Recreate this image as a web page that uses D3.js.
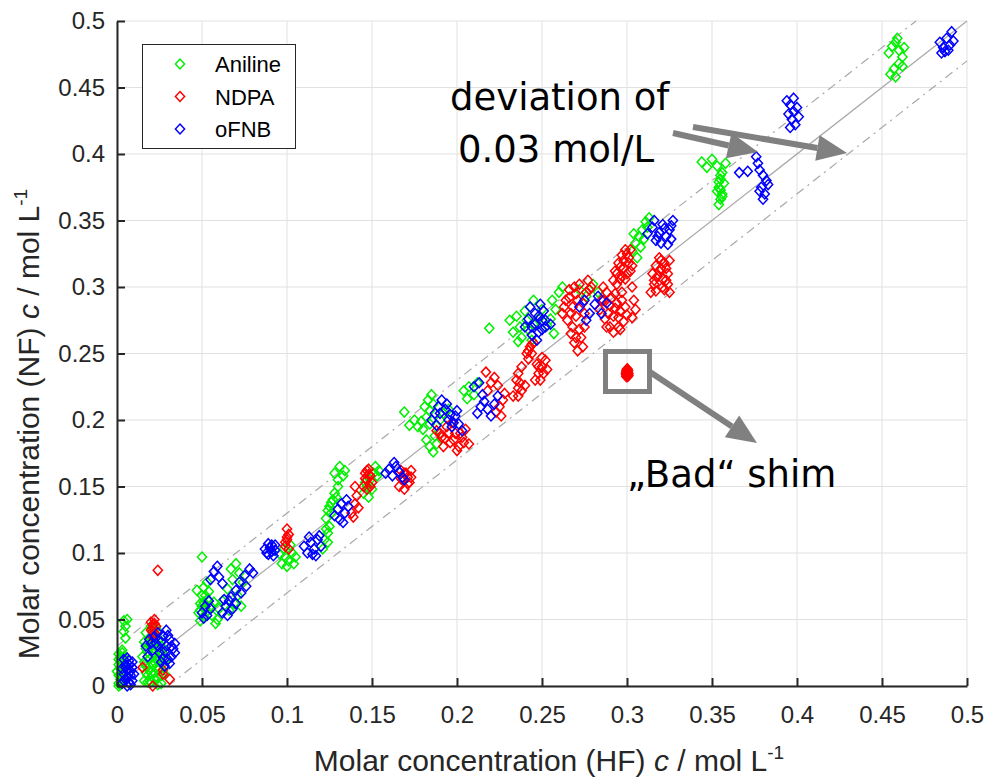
<!DOCTYPE html>
<html><head><meta charset="utf-8">
<script src="https://cdn.jsdelivr.net/npm/d3@7"></script>
<style>body{margin:0;background:#fff}svg{display:block}</style>
</head><body>
<svg id="chart" width="987" height="778"></svg>
<script>
// ---------- DATA ----------
const seriesNames = ["Aniline", "NDPA", "oFNB"];
const seriesColors = ["#00f000", "#ff0000", "#0000ff"];
const xTicks = [0, 0.05, 0.1, 0.15, 0.2, 0.25, 0.3, 0.35, 0.4, 0.45, 0.5];
const yTicks = [0, 0.05, 0.1, 0.15, 0.2, 0.25, 0.3, 0.35, 0.4, 0.45, 0.5];
const tickLabels = ["0", "0.05", "0.1", "0.15", "0.2", "0.25", "0.3", "0.35", "0.4", "0.45", "0.5"];
const deviation = 0.03;

const aniline = [
[0.001,0.002],[0.002,0.005],[0.001,0.008],[0.003,0.010],[0.002,0.013],[0.001,0.016],[0.003,0.018],[0.002,0.021],[0.001,0.024],[0.003,0.003],[0.004,0.007],[0.000,0.011],[0.003,0.014],[0.002,0.019],[0.004,0.022],[0.001,0.000],[0.003,0.025],
[0.002,0.001],[0.002,0.009],[0.004,0.015],[0.001,0.020],[0.003,0.027],
[0.005,0.036],[0.004,0.041],[0.005,0.045],[0.004,0.049],[0.006,0.050],
[0.016,0.004],[0.018,0.008],[0.020,0.003],[0.022,0.010],[0.017,0.015],[0.019,0.020],[0.021,0.016],[0.024,0.006],[0.025,0.013],[0.023,0.020],[0.026,0.002],[0.027,0.017],[0.018,0.026],[0.020,0.030],[0.022,0.025],[0.024,0.028],[0.016,0.033],[0.019,0.036],[0.021,0.040],[0.025,0.035],[0.027,0.024],[0.028,0.009],[0.015,0.022],[0.023,0.043],[0.019,0.012],[0.026,0.030],[0.029,0.020],[0.017,0.040],[0.022,0.005],[0.020,0.045],
[0.017,0.010],[0.021,0.022],[0.023,0.014],[0.025,0.020],[0.027,0.028],[0.018,0.032],[0.020,0.037],[0.022,0.033],[0.026,0.008],[0.024,0.001],[0.019,0.004],[0.028,0.014],
[0.016,0.018],[0.018,0.003],[0.020,0.010],[0.022,0.018],[0.024,0.012],[0.026,0.024],[0.017,0.028],[0.023,0.036],
[0.050,0.097],[0.048,0.055],[0.049,0.062],[0.050,0.068],[0.051,0.074],[0.052,0.058],[0.053,0.065],[0.054,0.071],[0.049,0.049],[0.051,0.052],[0.055,0.060],[0.056,0.053],[0.058,0.047],[0.059,0.050],[0.047,0.072],[0.053,0.078],[0.057,0.063],[0.060,0.058],[0.062,0.064],
[0.050,0.060],[0.052,0.068],[0.051,0.063],[0.049,0.057],
[0.067,0.088],[0.070,0.092],[0.072,0.085],[0.068,0.080],[0.065,0.073],[0.071,0.068],[0.074,0.078],[0.069,0.062],[0.066,0.057],[0.073,0.060],
[0.097,0.092],[0.099,0.097],[0.101,0.094],[0.103,0.100],[0.098,0.103],[0.102,0.106],[0.105,0.097],[0.100,0.090],[0.104,0.092],[0.096,0.099],[0.124,0.108],[0.121,0.103],
[0.128,0.160],[0.131,0.165],[0.133,0.158],[0.130,0.155],[0.134,0.162],
[0.122,0.110],[0.124,0.115],[0.125,0.120],[0.123,0.126],[0.126,0.130],[0.125,0.135],[0.127,0.140],[0.128,0.145],[0.130,0.150],[0.126,0.138],[0.124,0.132],[0.129,0.142],[0.123,0.118],
[0.145,0.145],[0.147,0.150],[0.149,0.155],[0.151,0.160],[0.152,0.165],[0.150,0.148],[0.148,0.142],[0.153,0.158],[0.146,0.153],[0.154,0.162],
[0.169,0.206],[0.172,0.196],[0.175,0.200],[0.177,0.195],[0.179,0.199],[0.182,0.202],[0.184,0.197],[0.180,0.193],[0.181,0.210],[0.183,0.215],[0.185,0.219],[0.186,0.212],[0.184,0.207],[0.182,0.185],[0.184,0.180],[0.186,0.176],[0.188,0.182],[0.187,0.188],[0.190,0.200],[0.192,0.205],[0.195,0.208],[0.204,0.222],[0.207,0.225],[0.210,0.219],[0.206,0.216],[0.212,0.228],
[0.219,0.269],[0.231,0.275],[0.235,0.278],[0.233,0.266],[0.237,0.270],[0.240,0.282],[0.238,0.262],[0.242,0.268],[0.236,0.259],[0.241,0.275],[0.245,0.272],[0.248,0.276],[0.250,0.283],[0.253,0.271],[0.256,0.290],[0.258,0.283],[0.260,0.296],[0.257,0.265],[0.255,0.276],[0.262,0.300],[0.245,0.290],[0.244,0.260],
[0.272,0.298],[0.276,0.293],[0.280,0.302],[0.283,0.296],
[0.303,0.327],[0.305,0.333],[0.307,0.338],[0.309,0.343],[0.311,0.349],[0.308,0.330],[0.306,0.322],[0.310,0.336],[0.312,0.345],[0.304,0.340],[0.313,0.352],
[0.344,0.394],[0.347,0.390],[0.350,0.396],[0.353,0.391],[0.356,0.386],[0.358,0.393],[0.355,0.381],[0.354,0.375],[0.356,0.370],[0.355,0.366],[0.357,0.378],[0.353,0.372],[0.354,0.362],
[0.355,0.373],[0.356,0.368],[0.354,0.379],[0.355,0.384],
[0.454,0.476],[0.456,0.481],[0.458,0.484],[0.460,0.478],[0.462,0.473],[0.459,0.487],[0.463,0.480],[0.455,0.460],[0.457,0.464],[0.460,0.468],[0.458,0.458],[0.462,0.466]
];

const ndpa = [
[0.015,0.014],[0.021,0.000],[0.027,0.012],[0.031,0.005],[0.027,0.009],[0.024,0.087],
[0.020,0.042],[0.021,0.046],[0.022,0.050],[0.021,0.044],[0.020,0.048],[0.022,0.040],[0.023,0.045],[0.021,0.037],[0.021,0.041],[0.022,0.047],
[0.099,0.105],[0.100,0.110],[0.101,0.114],[0.100,0.118],[0.099,0.108],[0.101,0.103],[0.100,0.112],
[0.138,0.130],[0.140,0.137],[0.141,0.143],[0.139,0.127],[0.142,0.134],[0.140,0.150],
[0.145,0.150],[0.147,0.155],[0.149,0.158],[0.146,0.160],[0.148,0.163],[0.150,0.153],[0.147,0.148],
[0.146,0.156],[0.148,0.159],[0.149,0.150],[0.147,0.162],
[0.166,0.150],[0.168,0.155],[0.170,0.160],[0.167,0.162],[0.172,0.153],[0.169,0.148],[0.171,0.157],[0.173,0.162],
[0.167,0.156],[0.169,0.160],[0.171,0.152],[0.173,0.157],
[0.188,0.192],[0.191,0.187],[0.194,0.195],[0.196,0.183],[0.199,0.190],[0.201,0.180],[0.203,0.187],[0.205,0.193],[0.207,0.182],[0.197,0.198],[0.192,0.180],[0.200,0.177],
[0.190,0.190],[0.193,0.186],[0.195,0.190],[0.198,0.185],[0.202,0.190],[0.204,0.183],
[0.218,0.222],[0.220,0.228],[0.222,0.232],[0.217,0.236],[0.224,0.226],[0.225,0.210],[0.227,0.215],[0.228,0.220],[0.223,0.206],[0.226,0.203],
[0.236,0.218],[0.238,0.222],[0.240,0.226],[0.237,0.228],
[0.241,0.250],[0.243,0.255],[0.245,0.258],[0.242,0.246],[0.246,0.230],[0.248,0.235],[0.250,0.240],[0.252,0.245],[0.249,0.230],[0.247,0.242],[0.236,0.235],[0.238,0.240],[0.235,0.230],[0.233,0.218],[0.236,0.224],
[0.242,0.252],[0.244,0.250],[0.244,0.257],[0.248,0.240],[0.251,0.235],[0.250,0.247],[0.253,0.238],
[0.262,0.280],[0.264,0.290],[0.266,0.298],[0.268,0.285],[0.270,0.295],[0.272,0.302],[0.274,0.288],[0.276,0.296],[0.265,0.275],[0.267,0.265],[0.269,0.258],[0.271,0.252],[0.273,0.262],[0.275,0.270],[0.268,0.270],[0.270,0.278],[0.277,0.305],[0.279,0.300],
[0.263,0.285],[0.266,0.292],[0.269,0.300],[0.271,0.290],[0.267,0.280],[0.272,0.268],[0.270,0.262],[0.274,0.255],[0.275,0.280],[0.278,0.298],
[0.284,0.283],[0.286,0.290],[0.288,0.296],[0.290,0.286],[0.292,0.278],[0.294,0.288],[0.296,0.282],[0.298,0.274],[0.290,0.270],[0.287,0.276],[0.293,0.295],[0.295,0.270],[0.297,0.290],[0.286,0.300],
[0.285,0.290],[0.289,0.280],[0.291,0.292],[0.293,0.284],[0.295,0.277],[0.297,0.296],[0.299,0.285],[0.288,0.270],[0.292,0.266],[0.296,0.268],[0.300,0.279],
[0.292,0.305],[0.294,0.310],[0.296,0.315],[0.298,0.320],[0.300,0.325],[0.302,0.312],[0.299,0.306],[0.301,0.318],[0.297,0.308],[0.303,0.300],[0.304,0.290],[0.305,0.283],[0.303,0.277],
[0.293,0.312],[0.295,0.318],[0.297,0.324],[0.299,0.328],[0.301,0.322],[0.303,0.316],[0.300,0.310],[0.298,0.314],[0.296,0.306],[0.302,0.328],[0.294,0.302],
[0.314,0.296],[0.316,0.302],[0.318,0.308],[0.320,0.314],[0.322,0.318],[0.324,0.310],[0.321,0.300],[0.319,0.322],[0.317,0.297],[0.323,0.305],[0.325,0.296],
[0.315,0.310],[0.317,0.316],[0.319,0.312],[0.321,0.306],[0.323,0.314],[0.325,0.320],[0.322,0.298],[0.320,0.320],[0.316,0.305],[0.324,0.302],
[0.2996,0.2328],[0.3004,0.2328],[0.3000,0.2335],[0.2996,0.2342],[0.3004,0.2342],[0.3008,0.2335],[0.3000,0.2350],[0.2996,0.2358],[0.3004,0.2358],[0.3000,0.2365],[0.2998,0.2372],[0.3006,0.2372],[0.3000,0.2380],[0.3002,0.2385],[0.2994,0.2350],[0.3008,0.2350],[0.3002,0.2345],[0.2998,0.2338],[0.3002,0.2362],[0.2998,0.2366],[0.3000,0.2326],[0.3000,0.2342],[0.3000,0.2358],[0.3000,0.2374]
];

const ofnb = [
[0.003,0.002],[0.005,0.005],[0.007,0.003],[0.004,0.009],[0.006,0.012],[0.008,0.008],[0.005,0.016],[0.007,0.019],[0.009,0.014],[0.003,0.013],[0.009,0.004],[0.006,0.000],[0.004,0.020],
[0.004,0.004],[0.006,0.007],[0.008,0.011],[0.005,0.014],[0.007,0.016],[0.009,0.018],[0.006,0.021],[0.008,0.001],[0.010,0.009],
[0.017,0.030],[0.019,0.035],[0.021,0.027],[0.023,0.032],[0.025,0.025],[0.027,0.038],[0.029,0.030],[0.031,0.035],[0.033,0.028],[0.030,0.020],[0.028,0.015],[0.032,0.022],[0.026,0.018],[0.034,0.032],[0.018,0.022],[0.029,0.042],[0.024,0.040],
[0.020,0.032],[0.022,0.037],[0.026,0.033],[0.028,0.026],[0.030,0.038],[0.032,0.030],[0.034,0.025],[0.031,0.017],[0.027,0.021],[0.024,0.030],
[0.050,0.055],[0.052,0.060],[0.054,0.064],[0.051,0.051],[0.055,0.058],[0.053,0.053],
[0.055,0.080],[0.057,0.086],[0.059,0.090],[0.060,0.082],[0.062,0.077],
[0.062,0.055],[0.064,0.060],[0.066,0.064],[0.068,0.058],[0.070,0.062],[0.065,0.053],[0.067,0.067],[0.063,0.065],
[0.070,0.072],[0.072,0.078],[0.075,0.083],[0.078,0.088],[0.080,0.085],[0.073,0.070],[0.076,0.075],
[0.088,0.100],[0.090,0.104],[0.092,0.098],[0.089,0.107],[0.093,0.106],[0.091,0.101],[0.087,0.103],[0.089,0.099],[0.091,0.106],[0.093,0.102],
[0.110,0.105],[0.112,0.100],[0.114,0.108],[0.116,0.103],[0.118,0.110],[0.120,0.105],[0.113,0.112],[0.117,0.098],[0.119,0.113],[0.115,0.099],
[0.128,0.128],[0.130,0.133],[0.132,0.137],[0.134,0.130],[0.136,0.135],[0.131,0.125],[0.135,0.140],[0.133,0.123],
[0.158,0.160],[0.160,0.163],[0.162,0.158],[0.164,0.165],[0.166,0.161],[0.168,0.157],[0.163,0.168],[0.169,0.155],
[0.185,0.200],[0.187,0.205],[0.189,0.210],[0.191,0.215],[0.193,0.208],[0.195,0.200],[0.197,0.195],[0.199,0.203],[0.201,0.197],[0.203,0.192],[0.200,0.207],[0.188,0.196],
[0.190,0.205],[0.194,0.212],[0.196,0.204],[0.198,0.198],
[0.212,0.205],[0.214,0.210],[0.216,0.214],[0.218,0.208],[0.220,0.203],[0.222,0.212],[0.224,0.218],[0.215,0.219],[0.210,0.225],[0.213,0.228],
[0.240,0.270],[0.242,0.276],[0.244,0.264],[0.246,0.272],[0.248,0.278],[0.250,0.268],[0.252,0.275],[0.247,0.260],[0.251,0.282],[0.249,0.287],[0.243,0.285],[0.255,0.272],
[0.244,0.270],[0.246,0.280],[0.248,0.266],[0.250,0.275],[0.252,0.270],
[0.272,0.285],[0.275,0.290],[0.278,0.280],[0.276,0.275],[0.281,0.287],[0.283,0.293],[0.285,0.280],[0.288,0.288],
[0.312,0.340],[0.315,0.345],[0.317,0.335],[0.319,0.341],[0.321,0.347],[0.323,0.338],[0.325,0.343],[0.327,0.350],[0.320,0.333],[0.324,0.332],[0.316,0.350],[0.326,0.336],
[0.318,0.338],[0.322,0.344],[0.326,0.346],
[0.366,0.386],[0.371,0.387],[0.376,0.398],[0.377,0.393],[0.378,0.388],[0.380,0.384],[0.382,0.380],[0.379,0.375],[0.381,0.370],[0.380,0.366],[0.378,0.372],[0.383,0.377],
[0.394,0.440],[0.396,0.437],[0.398,0.442],[0.400,0.435],[0.395,0.430],[0.397,0.426],[0.399,0.422],[0.401,0.428],[0.398,0.432],[0.396,0.420],
[0.484,0.484],[0.486,0.480],[0.488,0.487],[0.490,0.482],[0.487,0.477],[0.485,0.476],[0.489,0.478],[0.491,0.492],[0.492,0.485]
];

// ---------- CHART ----------
const svg = d3.select("#chart");
const x = d3.scaleLinear().domain([0, 0.5]).range([117, 967]);
const y = d3.scaleLinear().domain([0, 0.5]).range([686, 21]);
const font = "'Liberation Sans', Arial, sans-serif";
const annFont = "'DejaVu Sans', Verdana, sans-serif";

// grid
const grid = svg.append("g").attr("stroke", "#e1e1e1").attr("stroke-width", 1);
grid.selectAll(".gx").data(xTicks).join("line")
  .attr("x1", d => x(d)).attr("x2", d => x(d)).attr("y1", y(0)).attr("y2", y(0.5));
grid.selectAll(".gy").data(yTicks).join("line")
  .attr("y1", d => y(d)).attr("y2", d => y(d)).attr("x1", x(0)).attr("x2", x(0.5));

// reference lines
const refG = svg.append("g").attr("fill", "none").attr("stroke", "#a8a8a8").attr("stroke-width", 1.2);
refG.append("line").attr("x1", x(0)).attr("y1", y(0)).attr("x2", x(0.5)).attr("y2", y(0.5));
refG.append("line").attr("x1", x(0)).attr("y1", y(deviation)).attr("x2", x(0.5 - deviation)).attr("y2", y(0.5))
  .attr("stroke-dasharray", "9,5,2,5");
refG.append("line").attr("x1", x(deviation)).attr("y1", y(0)).attr("x2", x(0.5)).attr("y2", y(0.5 - deviation))
  .attr("stroke-dasharray", "9,5,2,5");

// markers
const diamond = (cx, cy) => `M${cx},${cy-5}L${cx+4.6},${cy}L${cx},${cy+5}L${cx-4.6},${cy}Z`;
const allSeries = [aniline, ndpa, ofnb];
allSeries.forEach((data, i) => {
  svg.append("g").attr("fill", "none").attr("stroke", seriesColors[i]).attr("stroke-width", 1.5)
    .selectAll("path").data(data).join("path")
    .attr("d", d => diamond(x(d[0]), y(d[1])));
});

// axes
const xAxis = d3.axisBottom(x).tickValues(xTicks).tickFormat(d => tickLabels[xTicks.indexOf(d)]).tickSizeInner(-8).tickSizeOuter(0).tickPadding(20);
const yAxis = d3.axisLeft(y).tickValues(yTicks).tickFormat(d => tickLabels[yTicks.indexOf(d)]).tickSizeInner(-8).tickSizeOuter(0).tickPadding(12);
const gx = svg.append("g").attr("transform", `translate(0,${y(0)})`).call(xAxis);
const gy = svg.append("g").attr("transform", `translate(${x(0)},0)`).call(yAxis);
[gx, gy].forEach(g => {
  g.selectAll("path,line").attr("stroke", "#262626").attr("stroke-width", 2);
  g.selectAll("text").attr("font-family", font).attr("font-size", 24).attr("fill", "#262626");
});

// axis labels
const xl = svg.append("text").attr("x", 549).attr("y", 771).attr("text-anchor", "middle")
  .attr("font-family", font).attr("font-size", 30).attr("fill", "#262626");
xl.append("tspan").text("Molar concentration (HF) ");
xl.append("tspan").attr("font-style", "italic").text("c");
xl.append("tspan").text(" / mol L");
xl.append("tspan").attr("font-size", 19).attr("dy", -12).text("-1");

const yl = svg.append("text").attr("transform", "translate(39,424) rotate(-90)").attr("text-anchor", "middle")
  .attr("font-family", font).attr("font-size", 30).attr("fill", "#262626");
yl.append("tspan").text("Molar concentration (NF) ");
yl.append("tspan").attr("font-style", "italic").text("c");
yl.append("tspan").text(" / mol L");
yl.append("tspan").attr("font-size", 19).attr("dy", -12).text("-1");

// legend
const lg = svg.append("g");
lg.append("rect").attr("x", 142.5).attr("y", 44.5).attr("width", 153).attr("height", 104)
  .attr("fill", "#fff").attr("stroke", "#262626").attr("stroke-width", 1);
seriesNames.forEach((n, i) => {
  const cy = 64 + i * 32.5;
  lg.append("path").attr("d", diamond(180, cy)).attr("fill", "none").attr("stroke", seriesColors[i]).attr("stroke-width", 1.5);
  lg.append("text").attr("x", 215).attr("y", cy + 8).attr("font-family", font).attr("font-size", 22).attr("fill", "#000").text(n);
});

// annotations
const grey = "#808080";
function arrow(x1, y1, x2, y2, w, headL, headW) {
  const a = Math.atan2(y2 - y1, x2 - x1);
  const bx = x2 - headL * Math.cos(a), by = y2 - headL * Math.sin(a);
  svg.append("line").attr("x1", x1).attr("y1", y1).attr("x2", bx).attr("y2", by)
    .attr("stroke", grey).attr("stroke-width", w);
  const px = -Math.sin(a) * headW / 2, py = Math.cos(a) * headW / 2;
  svg.append("path").attr("d", `M${x2},${y2}L${bx+px},${by+py}L${bx-px},${by-py}Z`).attr("fill", grey);
}
arrow(673, 133, 758, 152, 6, 30, 26);
arrow(693, 127, 847, 153, 6, 30, 26);
arrow(650, 372, 757, 443, 6, 30, 26);
svg.append("rect").attr("x", 605.5).attr("y", 351.5).attr("width", 44).attr("height", 40)
  .attr("fill", "none").attr("stroke", grey).attr("stroke-width", 5);

svg.append("text").attr("x", 450).attr("y", 110).attr("font-family", annFont).attr("font-size", 37).attr("fill", "#000").text("deviation of");
svg.append("text").attr("x", 458).attr("y", 162).attr("font-family", annFont).attr("font-size", 37).attr("fill", "#000").text("0.03 mol/L");
svg.append("text").attr("x", 627).attr("y", 487).attr("font-family", annFont).attr("font-size", 37).attr("fill", "#000").text("\u201EBad\u201C shim");
</script>
</body></html>
